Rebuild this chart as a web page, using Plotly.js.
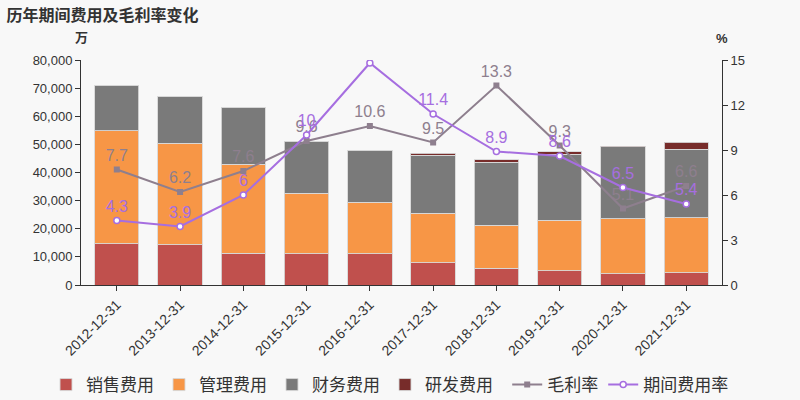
<!DOCTYPE html>
<html>
<head>
<meta charset="utf-8">
<script src="https://cdn.plot.ly/plotly-3.0.1.min.js"></script>
<style>
  html, body { margin: 0; padding: 0; background: #f8f8f8; }
  #chart { width: 800px; height: 400px; }
</style>
</head>
<body>
<div id="chart"></div>
<script>
// Years on the x axis
const years = ['2012-12-31', '2013-12-31', '2014-12-31', '2015-12-31', '2016-12-31',
  '2017-12-31', '2018-12-31', '2019-12-31', '2020-12-31', '2021-12-31'];

// Expenses, in 万
const salesCost = [14700, 14300, 11300, 11100, 11100, 7900, 5900, 5100, 4000, 4400];
const adminCost = [40200, 36100, 31600, 21600, 18400, 17700, 15400, 17900, 19500, 19500];
const financeCost = [16200, 16600, 20300, 18400, 18400, 20600, 22400, 23500, 25700, 24300];
const rdCost = [0, 0, 0, 0, 0, 600, 900, 800, 200, 2600];

// Rates, in %
const grossMargin = [7.7, 6.2, 7.6, 9.6, 10.6, 9.5, 13.3, 9.3, 5.1, 6.6];
const periodRate = [4.3, 3.9, 6, 10, 14.8, 11.4, 8.9, 8.6, 6.5, 5.4];

const FONT = '"Liberation Sans", "Noto Sans CJK SC", sans-serif';
const CJK = '"Noto Sans CJK SC", sans-serif';
const barLine = { color: 'rgba(215,215,215,0.9)', width: 1 };

function barTrace(name, values, color) {
  return {
    type: 'bar', name: name, x: years, y: values,
    marker: { color: color, line: barLine },
    hoverinfo: 'y+name', legend: 'legend'
  };
}

const traces = [
  barTrace('销售费用', salesCost, '#c0504d'),
  barTrace('管理费用', adminCost, '#f79646'),
  barTrace('财务费用', financeCost, '#7a7a7a'),
  barTrace('研发费用', rdCost, '#772c2a'),
  {
    type: 'scatter', mode: 'lines+markers+text', name: '毛利率',
    x: years, y: grossMargin, yaxis: 'y2', legend: 'legend2',
    text: grossMargin.map(String), textposition: 'top center',
    textfont: { color: '#8e7f8e', size: 16, family: FONT },
    line: { color: '#8e7f8e', width: 2 },
    marker: { symbol: 'square', size: 6, color: '#8e7f8e' }
  },
  {
    type: 'scatter', mode: 'lines+markers+text', name: '期间费用率',
    x: years, y: periodRate, yaxis: 'y2', legend: 'legend2',
    text: periodRate.map(String), textposition: 'top center',
    textfont: { color: '#a66ee0', size: 16, family: FONT },
    line: { color: '#a66ee0', width: 2 },
    marker: { symbol: 'circle', size: 6, color: '#ffffff', line: { color: '#a66ee0', width: 1.5 } }
  }
];

// two legends side by side, so the row does not wrap
const legendBase = {
  orientation: 'h', xref: 'container', xanchor: 'left',
  yref: 'container', y: 0.0375, yanchor: 'middle',
  font: { size: 17, color: '#333333', family: CJK },
  itemwidth: 30, traceorder: 'normal', bgcolor: 'rgba(0,0,0,0)'
};

const layout = {
  width: 800, height: 400,
  paper_bgcolor: '#f8f8f8', plot_bgcolor: '#f8f8f8',
  font: { family: FONT, color: '#333333', size: 13 },
  margin: { l: 81, r: 78, t: 60, b: 115 },
  barmode: 'stack', bargap: 0.3,
  title: {
    text: '<b>历年期间费用及毛利率变化</b>',
    x: 0.008, xanchor: 'left', y: 0.962, yanchor: 'middle',
    font: { size: 16, color: '#333333', family: CJK }
  },
  xaxis: {
    type: 'category', tickangle: -45,
    showline: true, linecolor: '#333333', linewidth: 1,
    ticks: 'outside', ticklen: 5, tickcolor: '#333333',
    showgrid: false, tickfont: { size: 14, color: '#333333' }
  },
  yaxis: {
    range: [0, 80000], dtick: 10000, tickformat: ',d',
    showline: true, linecolor: '#333333', linewidth: 1,
    ticks: 'outside', ticklen: 5, tickcolor: '#333333',
    showgrid: false, zeroline: false,
    tickfont: { size: 13, color: '#333333' }
  },
  yaxis2: {
    overlaying: 'y', side: 'right', range: [0, 15], dtick: 3,
    showline: true, linecolor: '#333333', linewidth: 1,
    ticks: 'outside', ticklen: 5, tickcolor: '#333333',
    showgrid: false, zeroline: false,
    tickfont: { size: 13, color: '#333333' }
  },
  legend: Object.assign({}, legendBase, { x: 0.0575 }),
  legend2: Object.assign({}, legendBase, { x: 0.634 }),
  annotations: [
    { text: '<b>万</b>', xref: 'paper', yref: 'paper', x: 0, y: 1, xanchor: 'center', yanchor: 'bottom',
      yshift: 12, showarrow: false, font: { size: 13, color: '#333333', family: CJK } },
    { text: '<b>%</b>', xref: 'paper', yref: 'paper', x: 1, y: 1, xanchor: 'center', yanchor: 'bottom',
      yshift: 12, showarrow: false, font: { size: 13, color: '#333333' } }
  ],
  showlegend: true
};

Plotly.newPlot('chart', traces, layout, { displayModeBar: false, staticPlot: true });
</script>
</body>
</html>
